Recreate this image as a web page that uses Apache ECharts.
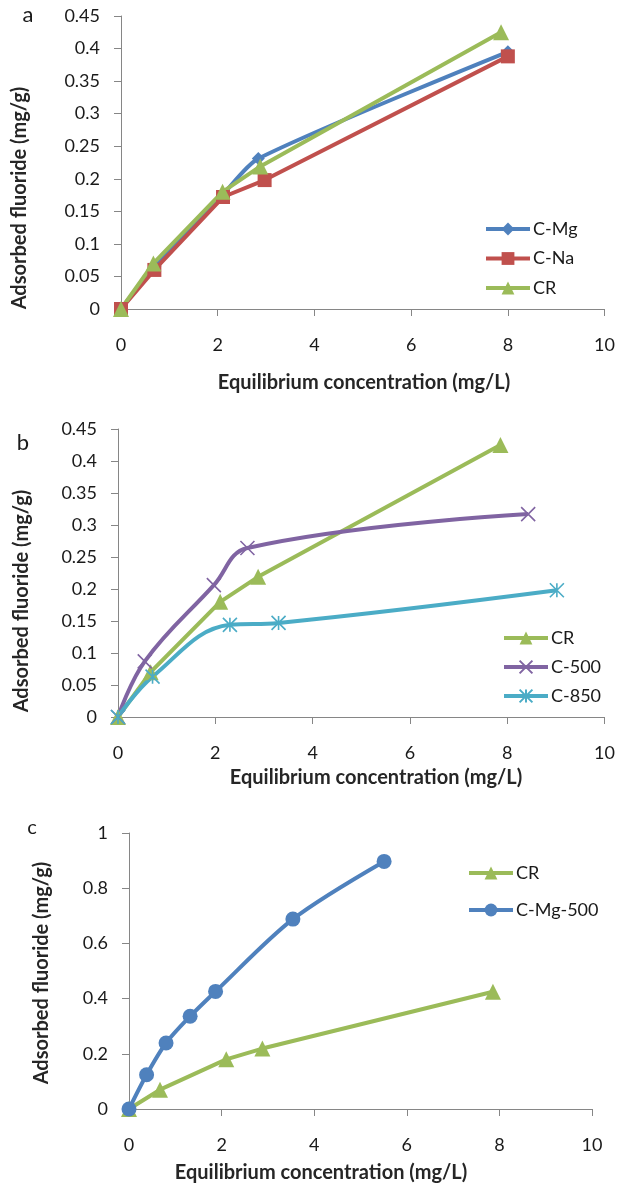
<!DOCTYPE html>
<html>
<head>
<meta charset="utf-8" />
<title>Fluoride adsorption</title>
<script src="https://cdn.jsdelivr.net/npm/echarts@6/dist/echarts.min.js"></script>
<style>
html, body {margin:0; padding:0; background:#fff;}
#chart {width:618px; height:1185px;}
</style>
</head>
<body>
<div id="chart"></div>
<script>
// CR (same in all three panels)
var crX = [0, 0.67, 2.1, 2.88, 7.86];
var crY = [0, 0.07, 0.18, 0.219, 0.425];
// panel a
var cMgX = [0, 0.7, 2.1, 2.84, 8.0];
var cMgY = [0, 0.065, 0.175, 0.231, 0.395];
var cNaX = [0, 0.69, 2.11, 2.97, 8.0];
var cNaY = [0, 0.06, 0.172, 0.198, 0.388];
// panel b
var c500X = [0, 0.55, 1.97, 2.66, 8.43];
var c500Y = [0, 0.087, 0.206, 0.264, 0.317];
var c850X = [0, 0.71, 2.3, 3.3, 9.02];
var c850Y = [0, 0.063, 0.144, 0.147, 0.198];
// panel c
var cMg500X = [0, 0.38, 0.8, 1.32, 1.87, 3.54, 5.51];
var cMg500Y = [0, 0.124, 0.239, 0.336, 0.426, 0.688, 0.897];

// axis ranges
var xRange = [0, 10, 2];
var yRangeAB = [0, 0.45, 0.05];
var yRangeC = [0, 1, 0.2];

var xTitle = 'Equilibrium concentration (mg/L)';
var yTitle = 'Adsorbed fluoride (mg/g)';

var FONT = 'Lato';
var AXIS_COLOR = '#868686';

function pairs(xs, ys) {
  return xs.map(function (x, i) { return [x, ys[i]]; });
}

var xMark = 'path://M0,0L10,10M10,0L0,10';
var starMark = 'path://M5,0L5,10M0,0L10,10M10,0L0,10';

function xAxis(idx) {
  return {
    type: 'value', gridIndex: idx,
    min: xRange[0], max: xRange[1], interval: xRange[2],
    axisLine: {lineStyle: {color: AXIS_COLOR, width: 1}},
    axisTick: {length: 7, lineStyle: {color: AXIS_COLOR}},
    axisLabel: {margin: 27, color: '#1a1a1a', fontSize: 18, fontFamily: FONT},
    splitLine: {show: false}
  };
}
function yAxis(idx, r) {
  return {
    type: 'value', gridIndex: idx,
    min: r[0], max: r[1], interval: r[2],
    axisLine: {show: true, lineStyle: {color: AXIS_COLOR, width: 1}},
    axisTick: {show: true, length: 7, lineStyle: {color: AXIS_COLOR}},
    axisLabel: {margin: 21, color: '#1a1a1a', fontSize: 18, fontFamily: FONT},
    splitLine: {show: false}
  };
}

function line(name, idx, data, color, symbol, size, smooth, stroke) {
  return {
    name: name, type: 'line', xAxisIndex: idx, yAxisIndex: idx,
    data: data, smooth: smooth, clip: false,
    symbol: symbol, symbolSize: size,
    lineStyle: {color: color, width: 4},
    itemStyle: stroke ? {color: color, borderColor: color, borderWidth: 1.6} : {color: color},
    emphasis: {disabled: true}
  };
}

function legend(names, left, top, gap) {
  return {
    data: names, orient: 'vertical', left: left, top: top,
    itemWidth: 44, itemHeight: 16, itemGap: gap,
    selectedMode: false,
    lineStyle: {width: 4},
    textStyle: {fontSize: 18, fontFamily: FONT, color: '#1a1a1a', padding: [0, 0, 0, -2]}
  };
}

function txt(s, x, y, opts) {
  return {
    type: 'text', x: x, y: y, rotation: opts.rot || 0,
    style: {
      text: s, fill: opts.color || '#1a1a1a',
      font: (opts.bold ? 'bold ' : '') + opts.size + 'px ' + FONT,
      align: 'center', verticalAlign: 'middle'
    }
  };
}

var GREEN = '#9BBB59', BLUE = '#4F81BD', RED = '#C0504D', PURPLE = '#8064A2', TEAL = '#4BACC6';

var chart = echarts.init(document.getElementById('chart'));
chart.setOption({
  animation: false,
  backgroundColor: '#fff',
  grid: [
    {left: 121, top: 16, width: 486, height: 293},
    {left: 118, top: 429, width: 488, height: 288},
    {left: 129, top: 833, width: 463, height: 276}
  ],
  xAxis: [xAxis(0), xAxis(1), xAxis(2)],
  yAxis: [yAxis(0, yRangeAB), yAxis(1, yRangeAB), yAxis(2, yRangeC)],
  legend: [
    legend(['C-Mg', 'C-Na', 'CR'], 479, 215, 11.5),
    legend(['CR', 'C-500', 'C-850'], 497, 624, 11),
    legend(['CR', 'C-Mg-500'], 462, 859, 19)
  ],
  series: [
    line('C-Mg', 0, pairs(cMgX, cMgY), BLUE, 'diamond', 13, 0.25),
    line('C-Na', 0, pairs(cNaX, cNaY), RED, 'rect', 14, false),
    line('CR', 0, pairs(crX, crY), GREEN, 'triangle', 16, false),
    line('CR', 1, pairs(crX, crY), GREEN, 'triangle', 16, false),
    line('C-500', 1, pairs(c500X, c500Y), PURPLE, xMark, 14, 0.4, true),
    line('C-850', 1, pairs(c850X, c850Y), TEAL, starMark, 14, 0.4, true),
    line('CR', 2, pairs(crX, crY), GREEN, 'triangle', 16, false),
    line('C-Mg-500', 2, pairs(cMg500X, cMg500Y), BLUE, 'circle', 15, 0.3)
  ],
  graphic: [
    txt('a', 28, 15, {size: 22}),
    txt(yTitle, 20, 198, {size: 20, bold: true, rot: Math.PI / 2, color: '#262626'}),
    txt(xTitle, 364, 383, {size: 20, bold: true, color: '#262626'}),
    txt('b', 23, 443, {size: 22}),
    txt(yTitle, 22, 601, {size: 20, bold: true, rot: Math.PI / 2, color: '#262626'}),
    txt(xTitle, 376, 778, {size: 20, bold: true, color: '#262626'}),
    txt('c', 32, 828, {size: 20}),
    txt(yTitle, 42, 973, {size: 20, bold: true, rot: Math.PI / 2, color: '#262626'}),
    txt(xTitle, 321, 1173, {size: 20, bold: true, color: '#262626'})
  ]
});
</script>
</body>
</html>
